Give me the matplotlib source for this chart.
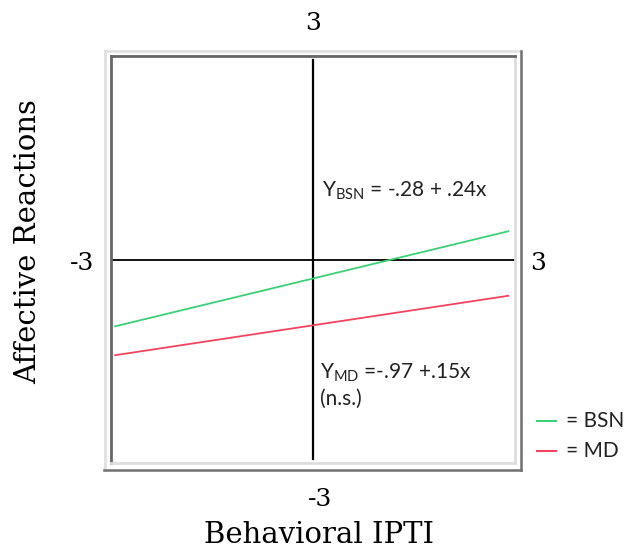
import matplotlib
matplotlib.use("Agg")
import matplotlib.pyplot as plt
from matplotlib.lines import Line2D
import numpy as np

# data
groups = ["BSN", "MD"]
intercepts = [-0.28, -0.97]
slopes = [0.24, 0.15]
x_range = [-2.94, 2.9]
colors = ["#3ccf78", "#f2445e"]
equations = [r"Y$_{\mathrm{BSN}}$ = -.28 + .24x", r"Y$_{\mathrm{MD}}$ =-.97 +.15x"]

plt.rcParams['mathtext.fontset'] = 'custom'
plt.rcParams['mathtext.rm'] = 'Lato'
plt.rcParams['mathtext.it'] = 'Lato:italic'

W, H = 630, 553
fig = plt.figure(figsize=(W/100, H/100), dpi=100)

def fx(px): return px / W
def fy(py): return 1 - py / H

# outer frame
fig.add_artist(Line2D([fx(105), fx(105)], [fy(470), fy(51)], color="#e0e0e0", lw=2.0))
fig.add_artist(Line2D([fx(105), fx(521)], [fy(51), fy(51)], color="#e0e0e0", lw=2.0))
fig.add_artist(Line2D([fx(521), fx(521)], [fy(51), fy(470)], color="#707070", lw=1.8))
fig.add_artist(Line2D([fx(104), fx(521)], [fy(470), fy(470)], color="#707070", lw=1.8))

ax = fig.add_axes([fx(111), fy(463), (515-111)/W, (463-56)/H])
ax.set_xlim(-3, 3)
ax.set_ylim(-3, 3)
ax.set_xticks([]); ax.set_yticks([])
for s in ["left", "top"]:
    ax.spines[s].set_color("#666666"); ax.spines[s].set_linewidth(2.0)
for s in ["right", "bottom"]:
    ax.spines[s].set_color("#dddddd"); ax.spines[s].set_linewidth(2.0)

ax.axhline(0, color="black", lw=1.3)
ax.axvline(0, color="black", lw=1.6, ymin=0.01, ymax=0.99)

xs = np.array(x_range)
for b0, b1, c in zip(intercepts, slopes, colors):
    ax.plot(xs, b0 + b1 * xs, color=c, lw=1.3)

sans = "Lato"
tc = "#222222"
ax.text(0.13, 0.93, equations[0], fontsize=15, family=sans, color=tc, va="baseline")
ax.text(0.10, -1.76, equations[1], fontsize=15, family=sans, color=tc, va="baseline")
ax.text(0.10, -2.15, "(n.s.)", fontsize=15, family=sans, color=tc, va="baseline")

serif = "DejaVu Serif"
fig.text(fx(313), fy(24), "3", fontsize=18, family=serif, ha="center", va="center")
fig.text(fx(320), fy(499), "-3", fontsize=18, family=serif, ha="center", va="center")
fig.text(fx(82), fy(264), "-3", fontsize=18, family=serif, ha="center", va="center")
fig.text(fx(538), fy(264), "3", fontsize=18, family=serif, ha="center", va="center")
fig.text(fx(319), fy(535), "Behavioral IPTI", fontsize=21, family=serif, ha="center", va="center")
fig.text(fx(28), fy(242), "Affective Reactions", fontsize=21, family=serif, ha="center", va="center", rotation=90)

# legend
for i, (g, c) in enumerate(zip(groups, colors)):
    yy = 421 + 30 * i
    fig.add_artist(Line2D([fx(537), fx(556)], [fy(yy), fy(yy)], color=c, lw=1.5))
    fig.text(fx(566), fy(yy), "= " + g, fontsize=15, family=sans, ha="left", va="center", color=tc)

fig.savefig("out.png", dpi=100)
